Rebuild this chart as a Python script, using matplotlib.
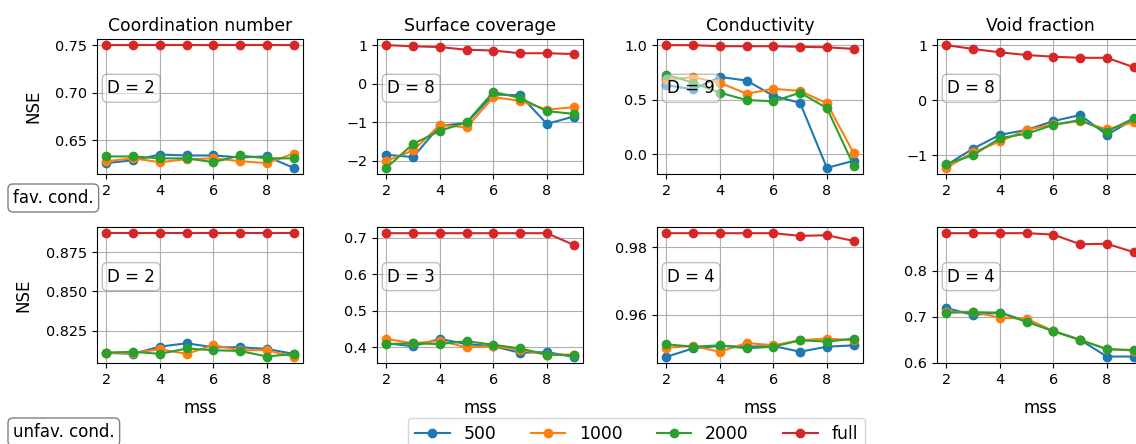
import numpy as np
import matplotlib.pyplot as plt

plt.rcParams['font.size'] = 10.4

mss = [2, 3, 4, 5, 6, 7, 8, 9]
labels = ['500', '1000', '2000', 'full']
titles = ['Coordination number', 'Surface coverage', 'Conductivity', 'Void fraction']

# favourable conditions (top row)
fav_coord = [
    [0.626, 0.629, 0.635, 0.634, 0.634, 0.632, 0.633, 0.621],
    [0.628, 0.631, 0.627, 0.630, 0.631, 0.628, 0.626, 0.636],
    [0.633, 0.633, 0.631, 0.631, 0.627, 0.634, 0.631, 0.631],
    [0.750, 0.750, 0.750, 0.750, 0.750, 0.750, 0.750, 0.750],
]
fav_surf = [
    [-1.84, -1.90, -1.09, -1.02, -0.28, -0.30, -1.04, -0.85],
    [-2.00, -1.73, -1.07, -1.13, -0.35, -0.44, -0.67, -0.61],
    [-2.18, -1.56, -1.22, -1.00, -0.21, -0.37, -0.71, -0.78],
    [1.00, 0.97, 0.95, 0.88, 0.86, 0.79, 0.79, 0.77],
]
fav_cond = [
    [0.633, 0.594, 0.709, 0.675, 0.536, 0.470, -0.125, -0.060],
    [0.685, 0.706, 0.655, 0.555, 0.600, 0.580, 0.467, 0.010],
    [0.730, 0.655, 0.564, 0.497, 0.485, 0.564, 0.423, -0.104],
    [1.000, 1.000, 0.990, 0.990, 0.990, 0.985, 0.980, 0.966],
]
fav_void = [
    [-1.18, -0.88, -0.63, -0.54, -0.38, -0.27, -0.63, -0.35],
    [-1.23, -0.95, -0.75, -0.54, -0.44, -0.38, -0.53, -0.40],
    [-1.16, -1.00, -0.69, -0.61, -0.45, -0.36, -0.57, -0.33],
    [1.00, 0.93, 0.87, 0.82, 0.79, 0.77, 0.77, 0.60],
]

# unfavourable conditions (bottom row)
unfav_coord = [
    [0.8108, 0.8102, 0.8148, 0.8169, 0.8144, 0.8144, 0.8133, 0.8102],
    [0.8108, 0.8108, 0.8131, 0.8102, 0.8157, 0.8125, 0.8125, 0.8083],
    [0.8110, 0.8115, 0.8102, 0.8136, 0.8125, 0.8120, 0.8085, 0.8102],
    [0.887, 0.887, 0.887, 0.887, 0.887, 0.887, 0.887, 0.887],
]
unfav_surf = [
    [0.411, 0.403, 0.423, 0.409, 0.403, 0.385, 0.387, 0.374],
    [0.423, 0.411, 0.418, 0.400, 0.403, 0.393, 0.380, 0.380],
    [0.409, 0.411, 0.409, 0.417, 0.407, 0.397, 0.380, 0.378],
    [0.713, 0.713, 0.713, 0.713, 0.713, 0.713, 0.713, 0.681],
]
unfav_cond = [
    [0.9475, 0.9500, 0.9507, 0.9505, 0.9507, 0.9490, 0.9505, 0.9509],
    [0.9502, 0.9507, 0.9490, 0.9516, 0.9509, 0.9524, 0.9529, 0.9524],
    [0.9512, 0.9505, 0.9509, 0.9500, 0.9505, 0.9524, 0.9520, 0.9529],
    [0.9841, 0.9841, 0.9841, 0.9841, 0.9841, 0.9833, 0.9835, 0.9818],
]
unfav_void = [
    [0.719, 0.704, 0.709, 0.691, 0.669, 0.650, 0.614, 0.614],
    [0.710, 0.711, 0.698, 0.696, 0.669, 0.650, 0.630, 0.627],
    [0.709, 0.710, 0.709, 0.689, 0.669, 0.650, 0.630, 0.628],
    [0.881, 0.881, 0.881, 0.881, 0.878, 0.857, 0.858, 0.840],
]

fav = [fav_coord, fav_surf, fav_cond, fav_void]
unfav = [unfav_coord, unfav_surf, unfav_cond, unfav_void]
fav_D = [2, 8, 9, 8]
unfav_D = [2, 3, 4, 4]
fav_yticks = [[0.65, 0.70, 0.75], [-2, -1, 0, 1], [0.0, 0.5, 1.0], [-1, 0, 1]]
unfav_yticks = [[0.825, 0.850, 0.875], [0.4, 0.5, 0.6, 0.7], [0.96, 0.98], [0.6, 0.7, 0.8]]

W, H = 1136, 444
fig = plt.figure(figsize=(W / 100, H / 100), dpi=100)

col_left = [97, 377, 657, 937]
ax_w = 206
rows = [(39, 174), (227, 363)]

handles = []
for r, (data, Ds, yt) in enumerate([(fav, fav_D, fav_yticks), (unfav, unfav_D, unfav_yticks)]):
    top, bot = rows[r]
    for c in range(4):
        ax = fig.add_axes([col_left[c] / W, 1 - bot / H, ax_w / W, (bot - top) / H])
        for k in range(4):
            h, = ax.plot(mss, data[c][k], marker='o', label=labels[k], zorder=3)
            if r == 0 and c == 0:
                handles.append(h)
        ax.grid(True)
        ax.set_yticks(yt[c])
        ax.set_xticks([2, 4, 6, 8])
        ax.text(0.05, 0.635, 'D = %d' % Ds[c], transform=ax.transAxes, fontsize=12,
                ha='left', va='center', zorder=5,
                bbox=dict(boxstyle='round', facecolor='white', edgecolor='gray', alpha=0.5))
        if r == 0:
            ax.set_title(titles[c], fontsize=12.4)
        else:
            ax.set_xlabel('mss', fontsize=12, labelpad=9)
        if c == 0:
            ax.set_ylabel('NSE', fontsize=12, labelpad=9.5)

fig.text(13 / W, 1 - 198 / H, 'fav. cond.', fontsize=12, ha='left', va='center',
         bbox=dict(boxstyle='round', facecolor='white', edgecolor='gray'))
fig.text(13 / W, 1 - 432 / H, 'unfav. cond.', fontsize=12, ha='left', va='center',
         bbox=dict(boxstyle='round', facecolor='white', edgecolor='gray'))

fig.legend(handles, labels, loc='upper center', ncol=4, fontsize=12.4,
           bbox_to_anchor=(636.5 / W, 1 - 418 / H), borderaxespad=0)

plt.savefig('out.png', dpi=100)
